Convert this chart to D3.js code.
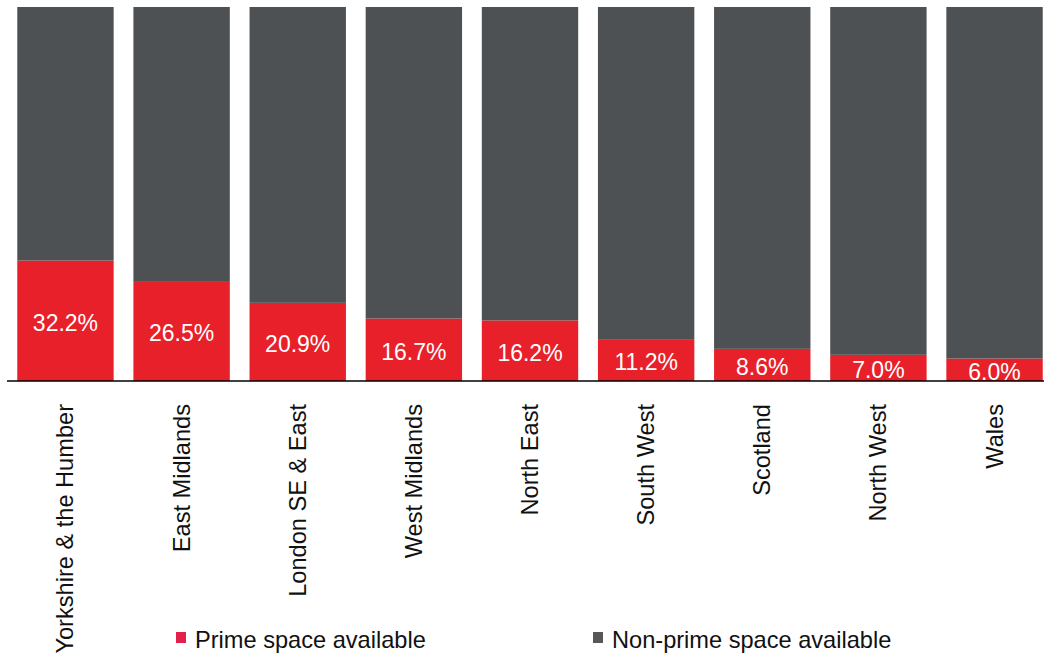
<!DOCTYPE html>
<html>
<head>
<meta charset="utf-8">
<script src="https://cdn.jsdelivr.net/npm/d3@7"></script>
<style>
  html, body { margin: 0; padding: 0; background: #ffffff; }
  svg { display: block; font-family: "Liberation Sans", Arial, sans-serif; }
</style>
</head>
<body>
<svg id="chart" width="1049" height="660"></svg>
<script>
const categories = ["Yorkshire & the Humber", "East Midlands", "London SE & East", "West Midlands",
  "North East", "South West", "Scotland", "North West", "Wales"];
const primeValues = [32.2, 26.5, 20.9, 16.7, 16.2, 11.2, 8.6, 7.0, 6.0];
const nonPrimeValues = [67.8, 73.5, 79.1, 83.3, 83.8, 88.8, 91.4, 93.0, 94.0];
const seriesNames = ["Prime space available", "Non-prime space available"];
const seriesColors = ["#e8202a", "#4e5153"];

const svg = d3.select("#chart");
const plotTop = 7, plotBottom = 381;

const x = d3.scaleBand().domain(categories).range([7.4, 1052.6]).paddingInner(0.17).paddingOuter(0.085);
const y = d3.scaleLinear().domain([0, 100]).range([plotBottom, plotTop]);

const rows = categories.map((c, i) => ({ cat: c, prime: primeValues[i], nonprime: nonPrimeValues[i] }));
const stack = d3.stack().keys(["prime", "nonprime"]);
const stacked = stack(rows);

svg.append("g").selectAll("g").data(stacked).join("g")
  .attr("fill", (d, i) => seriesColors[i])
  .selectAll("rect").data(d => d).join("rect")
  .attr("x", d => x(d.data.cat))
  .attr("width", x.bandwidth())
  .attr("y", d => y(d[1]))
  .attr("height", d => y(d[0]) - y(d[1]));

// value labels
svg.append("g").selectAll("text").data(rows).join("text")
  .attr("x", d => x(d.cat) + x.bandwidth() / 2)
  .attr("y", d => (y(0) + y(d.prime)) / 2 + 10)
  .attr("text-anchor", "middle")
  .attr("fill", "#ffffff")
  .attr("font-size", 23)
  .text(d => d.prime.toFixed(1) + "%");

// axis line
svg.append("line")
  .attr("x1", 7).attr("x2", 1044)
  .attr("y1", y(0)).attr("y2", y(0))
  .attr("stroke", "#000").attr("stroke-width", 1.5);

// category labels (rotated)
svg.append("g").selectAll("text").data(categories).join("text")
  .attr("transform", d => `translate(${x(d) + x.bandwidth() / 2 + 8},404) rotate(-90)`)
  .attr("text-anchor", "end")
  .attr("fill", "#111")
  .attr("font-size", 23.6)
  .text(d => d);

// legend
const legendX = [176, 593];
const lg = svg.append("g").selectAll("g").data(seriesNames).join("g")
  .attr("transform", (d, i) => `translate(${legendX[i]},632)`);
lg.append("rect").attr("width", 10).attr("height", 11).attr("fill", (d, i) => i === 0 ? "#e3204a" : "#555758");
lg.append("text").attr("x", 19).attr("y", 16).attr("font-size", 23.6).attr("fill", "#111").text(d => d);
</script>
</body>
</html>
